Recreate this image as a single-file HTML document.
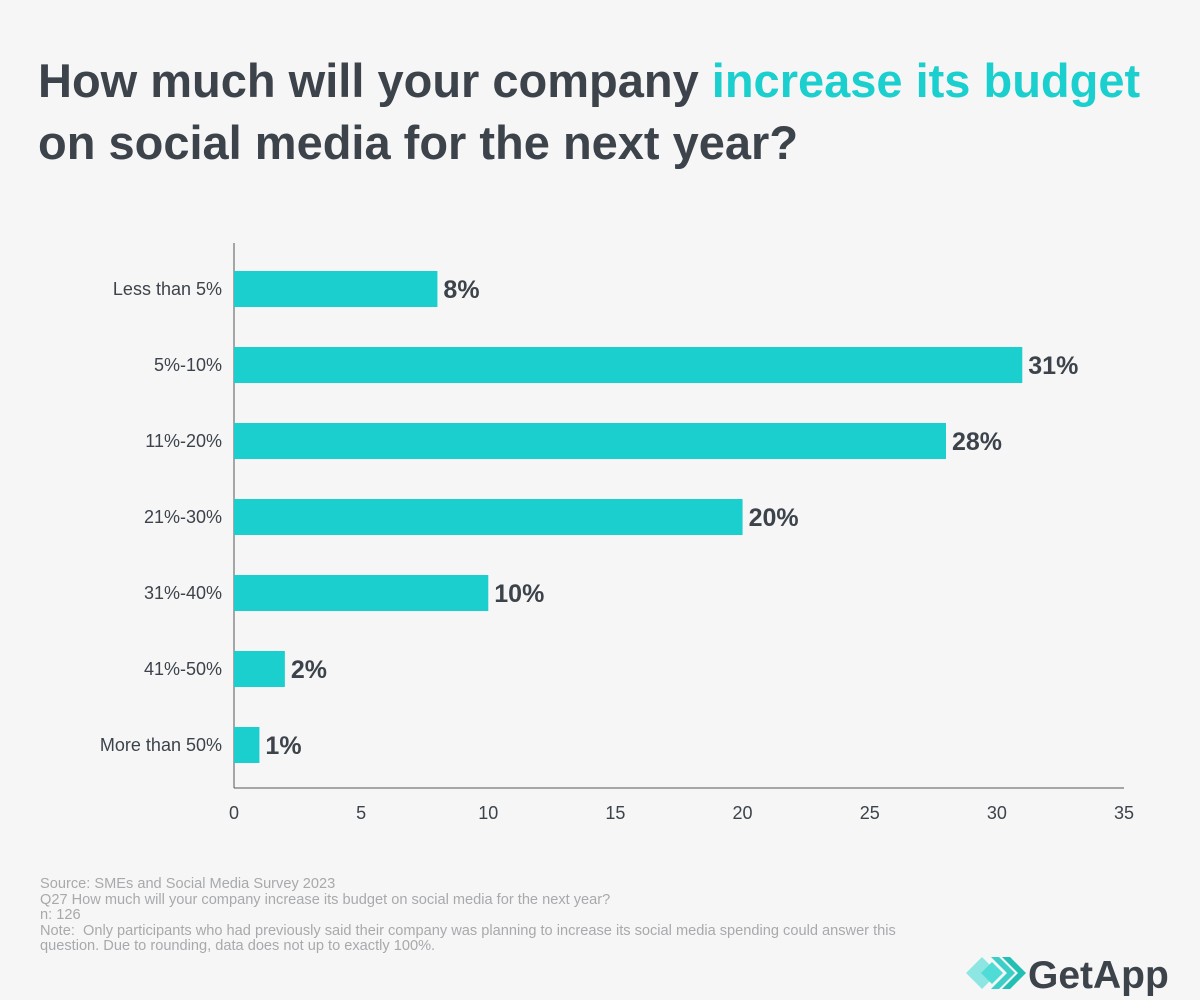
<!DOCTYPE html>
<html><head><meta charset="utf-8"><style>
body{margin:0;width:1200px;height:1000px;background:#f6f6f6;font-family:"Liberation Sans",sans-serif;overflow:hidden;position:relative}
h1{position:absolute;left:38px;top:50px;margin:0;font-size:47px;line-height:62px;font-weight:bold;color:#3d434b;letter-spacing:0px}
h1 span{color:#1ccfcf}
.foot{position:absolute;left:40px;top:877px;font-size:14.6px;line-height:15.5px;color:#a7a9ac}
.logo{position:absolute;left:964px;top:954px}
</style></head><body>
<h1>How much will your company <span>increase its budget</span><br>on social media for the next year?</h1>
<svg id="chart" width="1200" height="1000" style="position:absolute;left:0;top:0"></svg>
<div class="foot">Source: SMEs and Social Media Survey 2023<br>Q27 How much will your company increase its budget on social media for the next year?<br>n: 126<br>Note:&nbsp; Only participants who had previously said their company was planning to increase its social media spending could answer this<br>question. Due to rounding, data does not up to exactly 100%.</div>
<svg class="logo" width="230" height="42">
<polygon points="2,19 18,3 34,19 18,35" fill="#8ee6e3"/>
<polygon points="17,19 28,8 39,19 28,30" fill="#4fdcd6"/>
<polygon points="27,3 35,3 51,19 35,35 27,35 43,19" fill="#3ccfc8"/>
<polygon points="38,3 46,3 62,19 46,35 38,35 54,19" fill="#22bfb4"/>
<text x="64" y="34" font-size="39" font-weight="bold" fill="#3d434b" font-family="Liberation Sans, sans-serif">GetApp</text>
</svg>
<script>
const categories=["Less than 5%","5%-10%","11%-20%","21%-30%","31%-40%","41%-50%","More than 50%"];
const values=[8,31,28,20,10,2,1];
const ticks=[0,5,10,15,20,25,30,35];
const svg=document.getElementById('chart');
const NS='http://www.w3.org/2000/svg';
const x0=234,x1=1124,y0=243,y1=788;
const xs=v=>x0+(v-0)/(35-0)*(x1-x0);
const ys=i=>289+76*i;
function el(t,a){const e=document.createElementNS(NS,t);for(const k in a)e.setAttribute(k,a[k]);svg.appendChild(e);return e;}
let ax=el('line',{x1:x0,y1:y0,x2:x0,y2:y1,stroke:'#555',"stroke-width":1});


let bx=el('line',{x1:x0,y1:y1,x2:x1,y2:y1,stroke:'#555',"stroke-width":1});


ticks.forEach(t=>{const e=el('text',{x:xs(t),y:819,"text-anchor":"middle","font-size":18,fill:'#3d434b'});e.textContent=t;

});
categories.forEach((c,i)=>{const y=ys(i);
const r=el('rect',{x:x0,y:y-18,width:xs(values[i])-x0,height:36,fill:'#1ccfcf'});


const l=el('text',{x:222,y:y+6,"text-anchor":"end","font-size":18,fill:'#3d434b'});l.textContent=c;


const v=el('text',{x:xs(values[i])+6,y:y+9,"font-size":25,"font-weight":"bold",fill:'#3d434b'});v.textContent=values[i]+'%';

});
</script>
</body></html>
